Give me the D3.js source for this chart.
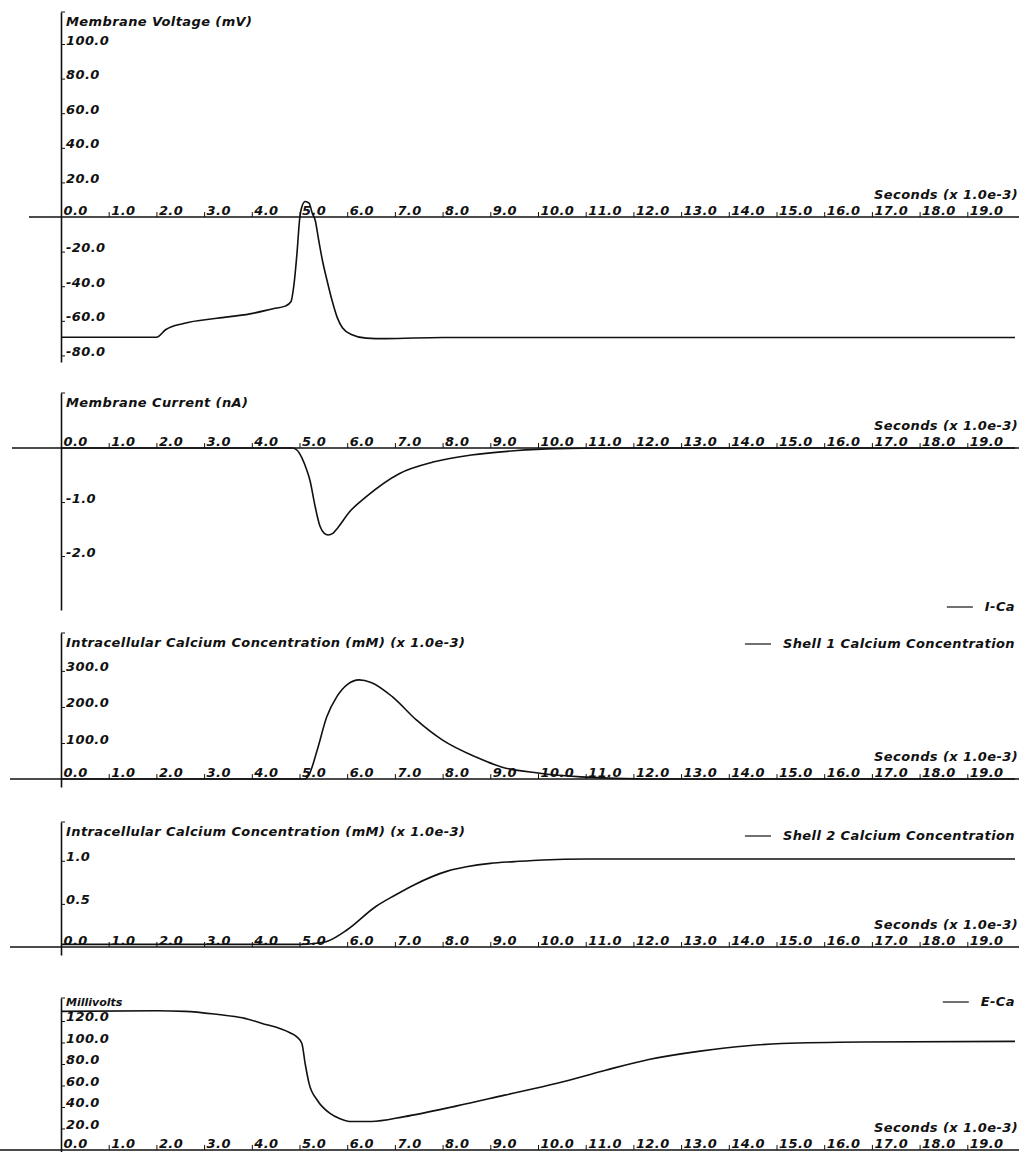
<!DOCTYPE html>
<html>
<head>
<meta charset="utf-8">
<script src="https://cdnjs.cloudflare.com/ajax/libs/d3/7.8.5/d3.min.js"></script>
<style>
  body { margin: 0; background: #fff; }
  svg text {
    font-family: "DejaVu Sans", sans-serif;
    font-style: oblique;
    font-weight: bold;
    font-size: 13px;
    letter-spacing: 0.4px;
    fill: #111;
  }
</style>
</head>
<body>
<div id="chart"></div>
<script>
// time axis ticks (ms, shown as Seconds x 1.0e-3)
const timeTicks = [0, 1, 2, 3, 4, 5, 6, 7, 8, 9, 10, 11, 12, 13, 14, 15, 16, 17, 18, 19];

// membrane voltage (mV)
const voltageTime = [0, 2.0, 2.2, 2.57, 3.27, 3.96, 4.45, 4.7, 4.82, 4.88, 4.95, 5.0, 5.05, 5.12, 5.2, 5.27, 5.33, 5.4, 5.48, 5.58, 5.68, 5.79, 5.9, 6.1, 6.4, 6.8, 8.0, 12, 16, 20];
const voltageMv = [-69.5, -69.5, -65, -61.5, -58.5, -56, -53, -51.5, -49, -40, -20, -2, 6, 9, 8, 2, -2, -13, -25, -37, -48, -58, -64, -68, -70, -70.3, -69.6, -69.6, -69.6, -69.6];
const voltageTicks = [100, 80, 60, 40, 20, -20, -40, -60, -80];

// membrane current (nA), I-Ca
const currentTime = [0, 4.85, 4.95, 5.05, 5.15, 5.22, 5.32, 5.43, 5.52, 5.6, 5.7, 5.8, 6.05, 6.4, 7.1, 7.8, 8.6, 9.5, 10.4, 11.5, 20];
const currentNa = [0, 0, -0.04, -0.18, -0.4, -0.6, -1.05, -1.45, -1.58, -1.61, -1.58, -1.48, -1.18, -0.9, -0.47, -0.26, -0.13, -0.05, -0.01, 0, 0];
const currentTicks = [-1, -2];

// shell 1 calcium (mM x 1.0e-3)
const shell1Time = [0, 5.1, 5.2, 5.37, 5.57, 5.78, 6.0, 6.25, 6.5, 6.95, 7.45, 8.0, 8.7, 9.25, 10.0, 10.9, 12.3, 20];
const shell1Ca = [0, 0, 12, 80, 172, 228, 262, 275, 268, 228, 164, 108, 61, 33, 17, 6, 0, 0];
const shell1Ticks = [300, 200, 100];

// shell 2 calcium (mM x 1.0e-3)
const shell2Time = [0, 5.0, 5.3, 5.6, 6.0, 6.6, 7.0, 7.4, 8.1, 8.5, 9.0, 9.5, 10.1, 11, 12, 20];
const shell2Ca = [0.03, 0.03, 0.04, 0.07, 0.2, 0.47, 0.6, 0.72, 0.88, 0.93, 0.97, 0.99, 1.01, 1.02, 1.02, 1.02];
const shell2Ticks = [1.0, 0.5];

// E-Ca (millivolts)
const ecaTime = [0, 2.0, 2.6, 3.3, 3.8, 4.2, 4.8, 4.95, 5.05, 5.12, 5.2, 5.37, 5.64, 5.85, 6.05, 6.5, 7.2, 8.3, 9.3, 10.4, 11.4, 12.3, 13.4, 14.4, 15.1, 16.8, 20];
const ecaMv = [129, 129.5, 129, 126, 123, 118, 109, 105, 99, 80, 62, 46.5, 34, 29, 26.5, 26.5, 31, 41, 51, 62, 74, 84, 92, 97, 99, 100.5, 101];
const ecaTicks = [120, 100, 80, 60, 40, 20];

const svgWidth = 1025;
const svgHeight = 1152;

const svg = d3.select("#chart")
  .append("svg")
  .attr("width", svgWidth)
  .attr("height", svgHeight);

let x = d3.scaleLinear()
  .domain([0, 20])
  .range([61, 1015]);

const fmt = d => d.toFixed(1);

// panel layout: y scales are set so the y axis line spans the range
const panels = [
  {title: "Membrane Voltage (mV)", time: voltageTime, vals: voltageMv, ticks: voltageTicks,
   domain: [-83.8, 118.5], range: [362, 12], axisStart: 29, legend: null},
  {title: "Membrane Current (nA)", time: currentTime, vals: currentNa, ticks: currentTicks,
   domain: [-3.0, 1.02], range: [610, 393], axisStart: 12, legend: "I-Ca", legendY: 611},
  {title: "Intracellular Calcium Concentration (mM) (x 1.0e-3)", time: shell1Time, vals: shell1Ca, ticks: shell1Ticks,
   domain: [-22, 405], range: [787, 633], axisStart: 10, legend: "Shell 1 Calcium Concentration", legendY: 648},
  {title: "Intracellular Calcium Concentration (mM) (x 1.0e-3)", time: shell2Time, vals: shell2Ca, ticks: shell2Ticks,
   domain: [-0.093, 1.45], range: [955, 822], axisStart: 10, legend: "Shell 2 Calcium Concentration", legendY: 840},
  {title: "Millivolts", time: ecaTime, vals: ecaMv, ticks: ecaTicks,
   domain: [-1.9, 141.4], range: [1152, 998], axisStart: 0, legend: "E-Ca", legendY: 1006, small: true}
];

panels.forEach(p => {
  let y = d3.scaleLinear().domain(p.domain).range(p.range);
  let y0 = y(0);
  let top = p.range[1];
  let g = svg.append("g");

  // horizontal time axis
  g.append("line")
    .attr("x1", p.axisStart).attr("x2", 1019)
    .attr("y1", y0).attr("y2", y0)
    .attr("stroke", "#111").attr("stroke-width", 1.6);

  let xAxis = d3.axisTop(x)
    .tickValues(timeTicks)
    .tickSize(5)
    .tickSizeOuter(0)
    .tickFormat(fmt);

  let xg = g.append("g")
    .attr("transform", `translate(0, ${y0})`)
    .call(xAxis);
  xg.select(".domain").remove();
  xg.selectAll("line").attr("stroke", "#111").attr("stroke-width", 1);
  xg.selectAll("text")
    .attr("font-size", null).attr("font-family", null)
    .attr("text-anchor", "start")
    .attr("fill", null)
    .attr("x", 2)
    .attr("y", -2)
    .attr("dy", null);

  g.append("text")
    .attr("x", 1018)
    .attr("y", y0 - 18)
    .attr("text-anchor", "end")
    .text("Seconds (x 1.0e-3)");

  // vertical axis
  let yAxis = d3.axisRight(y)
    .tickValues(p.ticks)
    .tickSize(4)
    .tickSizeOuter(0)
    .tickFormat(fmt);

  let yg = g.append("g")
    .attr("transform", `translate(${x(0)}, 0)`)
    .call(yAxis);
  yg.select(".domain").attr("stroke", "#111").attr("stroke-width", 1.6);
  yg.selectAll("line").attr("stroke", "#111");
  yg.selectAll("text")
    .attr("font-size", null).attr("font-family", null)
    .attr("fill", null)
    .attr("x", 5)
    .attr("dy", null)
    .attr("y", 0);

  // bracket at top of y axis
  g.append("line")
    .attr("x1", x(0)).attr("x2", x(0) + 4)
    .attr("y1", top).attr("y2", top)
    .attr("stroke", "#111");

  g.append("text")
    .attr("x", x(0) + 5)
    .attr("y", top + (p.small ? 8 : 14))
    .style("font-size", p.small ? "11px" : null)
    .style("letter-spacing", p.small ? "0px" : null)
    .text(p.title);

  // data line
  let pts = p.time.map((t, i) => [t, p.vals[i]]);
  let line = d3.line()
    .x(d => x(d[0]))
    .y(d => y(d[1]))
    .curve(d3.curveMonotoneX);

  g.append("path")
    .datum(pts)
    .attr("d", line)
    .attr("fill", "none")
    .attr("stroke", "#111")
    .attr("stroke-width", 1.6);

  if (p.legend) {
    let lt = g.append("text")
      .attr("x", 1015)
      .attr("y", p.legendY)
      .attr("text-anchor", "end")
      .text(p.legend);
    let w = lt.node().getComputedTextLength();
    g.append("line")
      .attr("x1", 1015 - w - 38).attr("x2", 1015 - w - 12)
      .attr("y1", p.legendY - 4).attr("y2", p.legendY - 4)
      .attr("stroke", "#111").attr("stroke-width", 1.2);
  }
});
</script>
</body>
</html>
